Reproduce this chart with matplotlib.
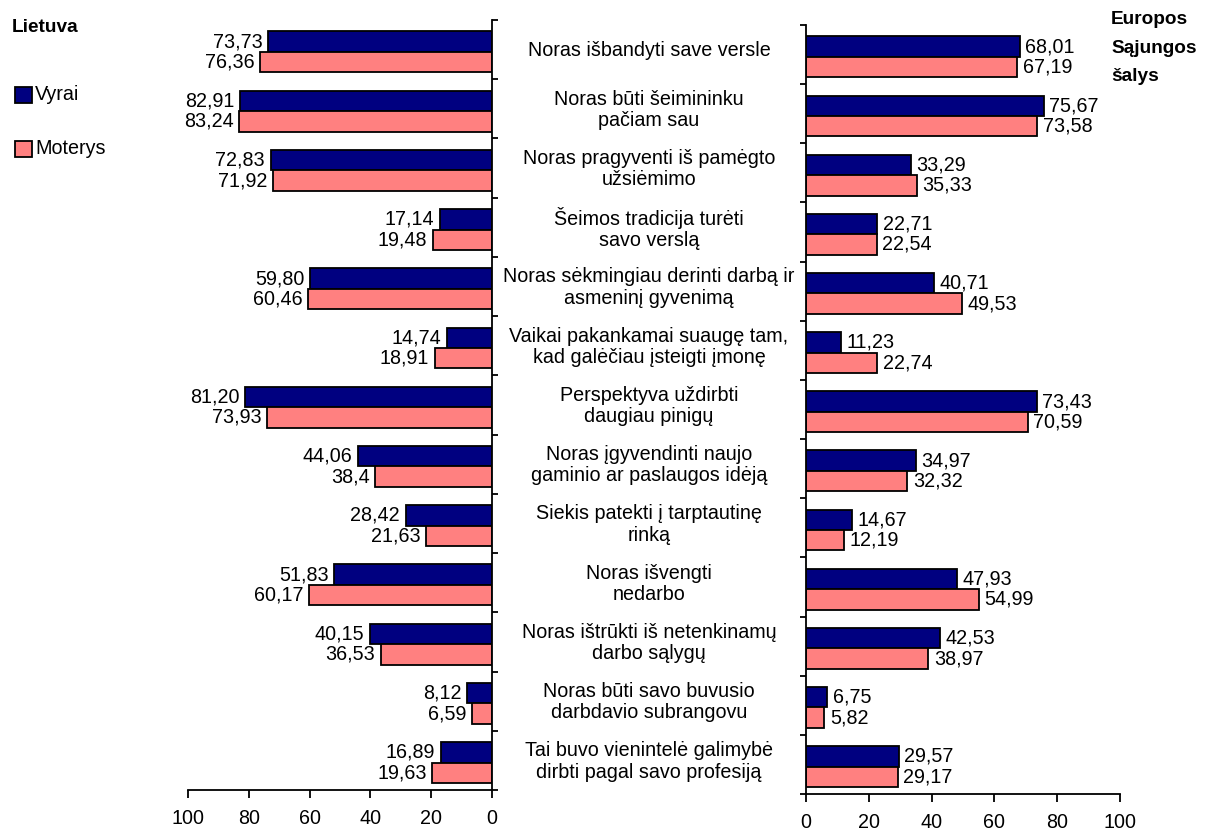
import matplotlib
matplotlib.use("Agg")
import matplotlib.pyplot as plt
from matplotlib.patches import Rectangle

plt.rcParams['font.family'] = ['Liberation Sans', 'DejaVu Sans']

categories = [
    "Noras išbandyti save versle",
    "Noras būti šeimininku\npačiam sau",
    "Noras pragyventi iš pamėgto\nužsiėmimo",
    "Šeimos tradicija turėti\nsavo verslą",
    "Noras sėkmingiau derinti darbą ir\nasmeninį gyvenimą",
    "Vaikai pakankamai suaugę tam,\nkad galėčiau įsteigti įmonę",
    "Perspektyva uždirbti\ndaugiau pinigų",
    "Noras įgyvendinti naujo\ngaminio ar paslaugos idėją",
    "Siekis patekti į tarptautinę\nrinką",
    "Noras išvengti\nnedarbo",
    "Noras ištrūkti iš netenkinamų\ndarbo sąlygų",
    "Noras būti savo buvusio\ndarbdavio subrangovu",
    "Tai buvo vienintelė galimybė\ndirbti pagal savo profesiją",
]
lt_men = [73.73, 82.91, 72.83, 17.14, 59.80, 14.74, 81.20, 44.06, 28.42, 51.83, 40.15, 8.12, 16.89]
lt_women = [76.36, 83.24, 71.92, 19.48, 60.46, 18.91, 73.93, 38.4, 21.63, 60.17, 36.53, 6.59, 19.63]
eu_men = [68.01, 75.67, 33.29, 22.71, 40.71, 11.23, 73.43, 34.97, 14.67, 47.93, 42.53, 6.75, 29.57]
eu_women = [67.19, 73.58, 35.33, 22.54, 49.53, 22.74, 70.59, 32.32, 12.19, 54.99, 38.97, 5.82, 29.17]
lt_women_labels = ["76,36", "83,24", "71,92", "19,48", "60,46", "18,91", "73,93", "38,4",
                   "21,63", "60,17", "36,53", "6,59", "19,63"]
xticks = [0, 20, 40, 60, 80, 100]

NAVY = "#000080"
PINK = "#FF8080"
FS = 14.2

def fmt(v):
    return f"{v:.2f}".replace(".", ",")

W, H = 1209, 834
fig = plt.figure(figsize=(W / 100, H / 100), dpi=100)

def axrect(x0, x1, ytop, ybot):
    return [x0 / W, 1 - ybot / H, (x1 - x0) / W, (ybot - ytop) / H]

axL = fig.add_axes(axrect(188, 492, 20, 790))
axR = fig.add_axes(axrect(806, 1120, 25, 794))

n = len(categories)
ypos = list(range(n))
off_b, off_p, h = -0.135, 0.21, 0.345

def style(ax, side):
    ax.set_ylim(n - 0.5, -0.5)
    ax.set_xlim(0, 100)
    ax.set_xticks(xticks)
    ax.tick_params(axis='x', length=6, width=1.3, labelsize=FS, pad=8)
    ax.set_yticks([i - 0.5 for i in range(n + 1)])
    ax.set_yticklabels([])
    ax.tick_params(axis='y', length=4, width=1.3)
    ax.spines['top'].set_visible(False)
    ax.spines['bottom'].set_linewidth(1.3)
    if side == 'left':
        ax.spines['left'].set_visible(False)
        ax.spines['right'].set_linewidth(1.3)
        ax.yaxis.tick_right()
        ax.invert_xaxis()
    else:
        ax.spines['right'].set_visible(False)
        ax.spines['left'].set_linewidth(1.3)

style(axL, 'left')
style(axR, 'right')

# Left (Lietuva)
axL.barh([y + off_b for y in ypos], lt_men, height=h, color=NAVY, edgecolor='black', linewidth=1.3)
axL.barh([y + off_p for y in ypos], lt_women, height=h, color=PINK, edgecolor='black', linewidth=1.3)
for i in range(n):
    axL.annotate(fmt(lt_men[i]), (lt_men[i], i + off_b), xytext=(-4, 0), textcoords='offset points',
                 ha='right', va='center', fontsize=FS)
    axL.annotate(lt_women_labels[i], (lt_women[i], i + off_p), xytext=(-4, 0), textcoords='offset points',
                 ha='right', va='center', fontsize=FS)

# Right (EU)
axR.barh([y + off_b for y in ypos], eu_men, height=h, color=NAVY, edgecolor='black', linewidth=1.3)
axR.barh([y + off_p for y in ypos], eu_women, height=h, color=PINK, edgecolor='black', linewidth=1.3)
for i in range(n):
    axR.annotate(fmt(eu_men[i]), (eu_men[i], i + off_b), xytext=(4, 0), textcoords='offset points',
                 ha='left', va='center', fontsize=FS)
    axR.annotate(fmt(eu_women[i]), (eu_women[i], i + off_p), xytext=(4, 0), textcoords='offset points',
                 ha='left', va='center', fontsize=FS)

# Category labels in the middle
for i, c in enumerate(categories):
    fig.text(649 / W, 1 - (21 + (i + 0.5) * (770 / n)) / H, c, ha='center', va='center',
             fontsize=FS, linespacing=1.15)

# Titles
fig.text(12 / W, 1 - 28 / H, "Lietuva", fontsize=FS - 0.5, fontweight='bold', ha='left', va='center')
fig.text(1111 / W, 1 - 11 / H, "Europos\nSąjungos\nšalys", fontsize=FS - 0.5, fontweight='bold',
         ha='left', va='top', linespacing=1.9)

# Legend
for ytop, col, lab in [(87, NAVY, "Vyrai"), (141, PINK, "Moterys")]:
    fig.patches.append(Rectangle((15 / W, 1 - (ytop + 16) / H), 17 / W, 16 / H, transform=fig.transFigure,
                                 facecolor=col, edgecolor='black', linewidth=1.3))
    fig.text(35 / W, 1 - (ytop + 8) / H, lab, fontsize=FS, ha='left', va='center')

fig.savefig("out.png", dpi=100)
